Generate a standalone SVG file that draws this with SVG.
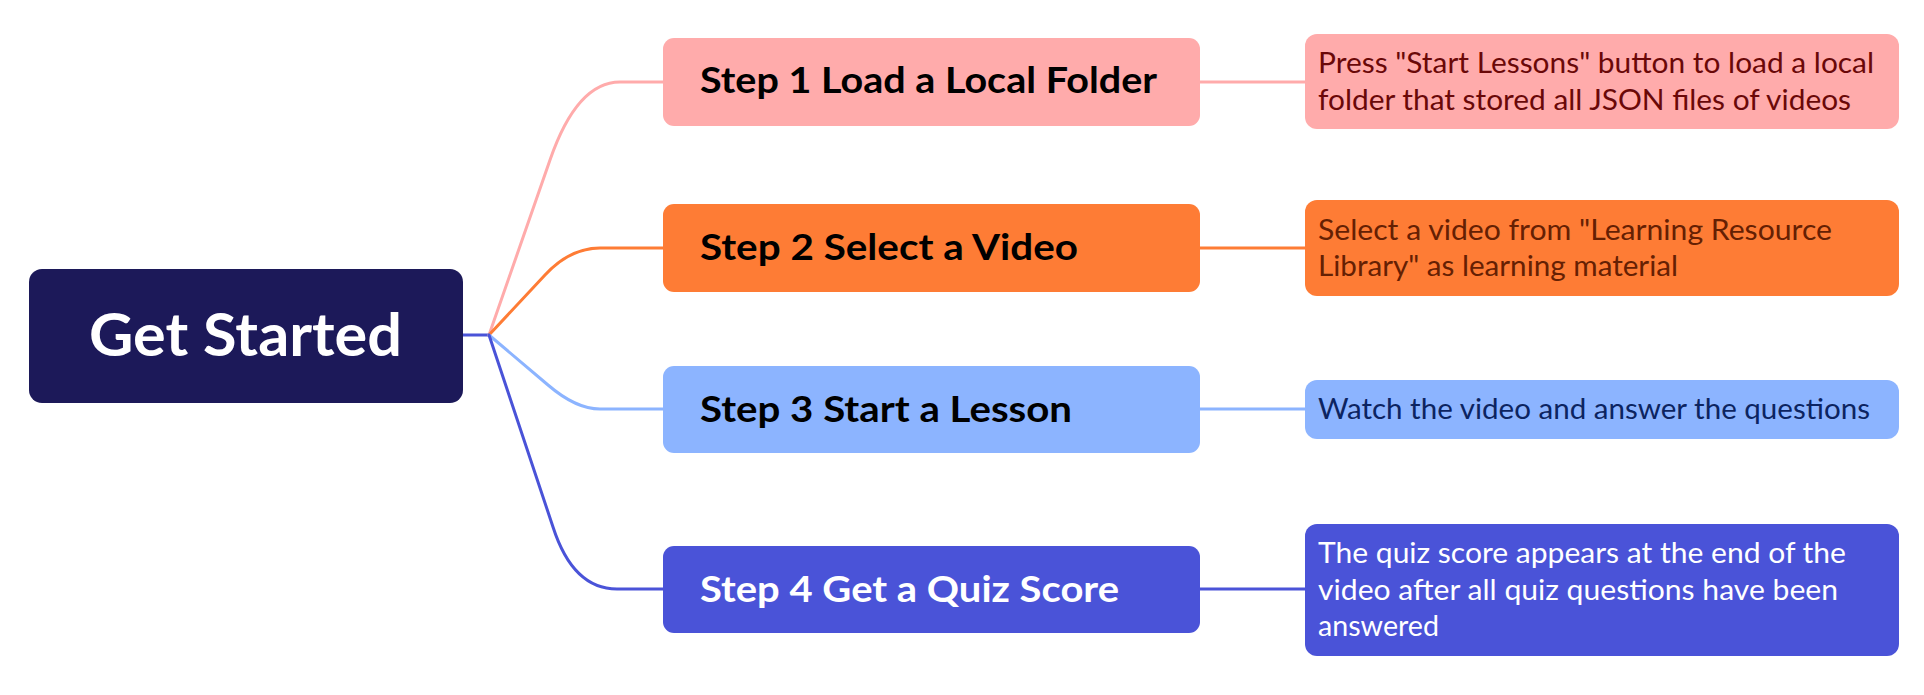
<svg xmlns="http://www.w3.org/2000/svg" width="1924" height="695" viewBox="0 0 1924 695">
<style>
.title{font-family:Lato,"Open Sans","Liberation Sans",sans-serif;font-weight:700;font-size:37px;fill:#000}
.desc{font-family:Lato,"Open Sans","Liberation Sans",sans-serif;font-weight:400;font-size:29px}
.root{font-family:Lato,"Open Sans","Liberation Sans",sans-serif;font-weight:700;font-size:60px;fill:#fff}
.c{fill:none;stroke-width:3;stroke-linecap:round;stroke-linejoin:round}
</style>
<rect width="1924" height="695" fill="#fff"/>
<g id="connectors">
<path class="c" stroke="#4A53D8" d="M 463 335 L 489 335"/>
<path class="c" stroke="#FFABAB" d="M 489 335 L 550 160 Q 577 82 620 82 L 663 82"/>
<path class="c" stroke="#FE7C35" d="M 489 335 L 545 275 Q 570 248 600 248 L 663 248"/>
<path class="c" stroke="#8CB4FF" d="M 489 335 L 548 385 Q 576 409 600 409 L 663 409"/>
<path class="c" stroke="#4A53D8" d="M 489 335 L 553 527 Q 573 589 617 589 L 663 589"/>
<path class="c" stroke="#FFABAB" d="M 1200 82 L 1305 82"/>
<path class="c" stroke="#FE7C35" d="M 1200 248 L 1305 248"/>
<path class="c" stroke="#8CB4FF" d="M 1200 409 L 1305 409"/>
<path class="c" stroke="#4A53D8" d="M 1200 589 L 1305 589"/>
</g>
<g id="root">
<rect x="29" y="269" width="434" height="134" rx="13" fill="#1C1959"/>
<text class="root" x="89" y="356" textLength="313" lengthAdjust="spacingAndGlyphs">Get Started</text>
</g>
<g id="step1">
<rect x="663" y="38" width="537" height="88" rx="11" fill="#FFABAB"/>
<text class="title" x="700" y="93" textLength="457" lengthAdjust="spacingAndGlyphs">Step 1 Load a Local Folder</text>
</g>
<g id="step2">
<rect x="663" y="204" width="537" height="88" rx="11" fill="#FE7C35"/>
<text class="title" x="700" y="260" textLength="378" lengthAdjust="spacingAndGlyphs">Step 2 Select a Video</text>
</g>
<g id="step3">
<rect x="663" y="366" width="537" height="87" rx="11" fill="#8CB4FF"/>
<text class="title" x="700" y="422" textLength="372" lengthAdjust="spacingAndGlyphs">Step 3 Start a Lesson</text>
</g>
<g id="step4">
<rect x="663" y="546" width="537" height="87" rx="11" fill="#4A53D8"/>
<text class="title" x="700" y="602" style="fill:#fff" textLength="419" lengthAdjust="spacingAndGlyphs">Step 4 Get a Quiz Score</text>
</g>
<g id="desc1">
<rect x="1305" y="34" width="594" height="95" rx="12" fill="#FFABAB"/>
<text class="desc" fill="#6A0808" x="1318" y="73" textLength="556" lengthAdjust="spacingAndGlyphs">Press "Start Lessons" button to load a local</text>
<text class="desc" fill="#6A0808" x="1318" y="110" textLength="533" lengthAdjust="spacingAndGlyphs">folder that stored all JSON files of videos</text>
</g>
<g id="desc2">
<rect x="1305" y="200" width="594" height="96" rx="12" fill="#FE7C35"/>
<text class="desc" fill="#652003" x="1318" y="240" textLength="514" lengthAdjust="spacingAndGlyphs">Select a video from "Learning Resource</text>
<text class="desc" fill="#652003" x="1318" y="276" textLength="360" lengthAdjust="spacingAndGlyphs">Library" as learning material</text>
</g>
<g id="desc3">
<rect x="1305" y="380" width="594" height="59" rx="12" fill="#8CB4FF"/>
<text class="desc" fill="#0C2461" x="1318" y="419" textLength="552" lengthAdjust="spacingAndGlyphs">Watch the video and answer the questions</text>
</g>
<g id="desc4">
<rect x="1305" y="524" width="594" height="132" rx="12" fill="#4A53D8"/>
<text class="desc" fill="#fff" x="1318" y="563" textLength="528" lengthAdjust="spacingAndGlyphs">The quiz score appears at the end of the</text>
<text class="desc" fill="#fff" x="1318" y="600" textLength="520" lengthAdjust="spacingAndGlyphs">video after all quiz questions have been</text>
<text class="desc" fill="#fff" x="1318" y="636" textLength="121" lengthAdjust="spacingAndGlyphs">answered</text>
</g>
</svg>
